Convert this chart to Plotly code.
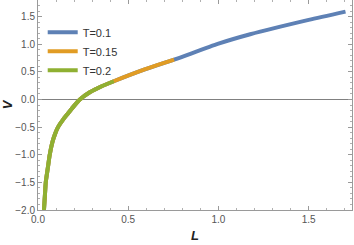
import plotly.graph_objects as go

# Data
L_vals = [0.033, 0.038, 0.043, 0.054, 0.065, 0.08, 0.095, 0.111, 0.14, 0.167, 0.2, 0.232,
          0.287, 0.35, 0.42, 0.58, 0.754, 1.0, 1.176, 1.5, 1.704]
V_vals = [-2.0, -1.75, -1.5, -1.25, -1.0, -0.77, -0.62, -0.5, -0.36, -0.25, -0.115, 0.0,
          0.13, 0.235, 0.33, 0.53, 0.72, 1.01, 1.18, 1.44, 1.59]
series_names = ["T=0.1", "T=0.15", "T=0.2"]
series_Lmax = [1.704, 0.754, 0.42]
colors = ["#5E81B5", "#E19C24", "#8FB032"]

fig = go.Figure()
for i, (name, lmax, col) in enumerate(zip(series_names, series_Lmax, colors)):
    xs = [l for l in L_vals if l <= lmax + 1e-9]
    ys = V_vals[:len(xs)]
    fig.add_trace(go.Scatter(
        x=xs, y=ys, mode="lines", name=name, legendgroup=name,
        line=dict(color=col, width=4, shape="spline", smoothing=0.6),
    ))

axis_common = dict(
    showline=True, linecolor="#9a9a9a", linewidth=1, mirror="ticks",
    ticks="inside", ticklen=4, tickcolor="#9a9a9a", tickwidth=1,
    showgrid=False,
    tickfont=dict(family="Liberation Sans, Arial, sans-serif", size=10, color="#555555"),
    tickformat=".1f", dtick=0.5,
    minor=dict(ticks="inside", ticklen=2, tickcolor="#b0b0b0", dtick=0.1, showgrid=False),
)

fig.update_layout(
    width=354, height=245,
    margin=dict(l=38, r=2, t=0, b=35),
    plot_bgcolor="white", paper_bgcolor="white",
    xaxis=dict(range=[0, 1.74], zeroline=False,
               title=dict(text="<b><i>L</i></b>", standoff=6,
                          font=dict(family="Liberation Sans, Arial, sans-serif", size=13, color="#222222")),
               **axis_common),
    yaxis=dict(range=[-2.0, 1.8], zeroline=True, zerolinecolor="#808080", zerolinewidth=1,
               title=dict(text="<b><i>V</i></b>", standoff=4,
                          font=dict(family="Liberation Sans, Arial, sans-serif", size=13, color="#222222")),
               **axis_common),
    legend=dict(x=0.015, y=0.915, xanchor="left", yanchor="top",
                bgcolor="rgba(0,0,0,0)", itemwidth=30, tracegroupgap=3, traceorder="normal",
                font=dict(family="Liberation Sans, Arial, sans-serif", size=11, color="#333333")),
    showlegend=True,
)

fig.write_html("out.html", config={"displayModeBar": False},
               post_script="document.body.style.margin='0';")
